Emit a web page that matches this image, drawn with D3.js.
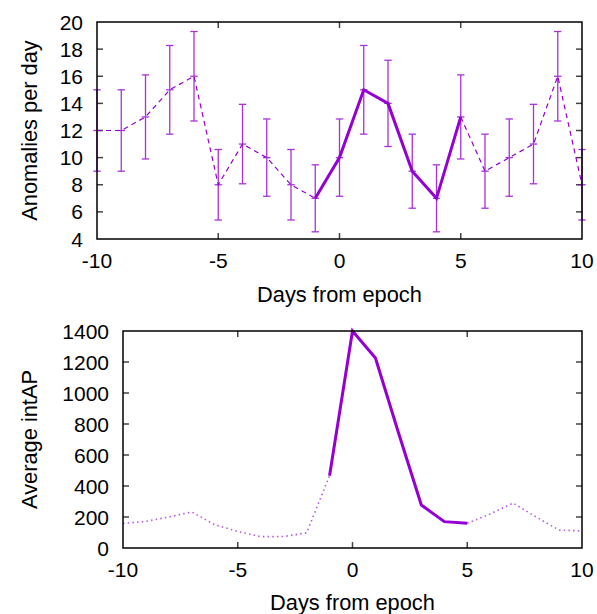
<!DOCTYPE html>
<html>
<head>
<meta charset="utf-8">
<script src="https://cdn.jsdelivr.net/npm/d3@7/dist/d3.min.js"></script>
<style>
  html, body { margin: 0; padding: 0; background: #fff; }
  svg { display: block; }
  text { font-family: "Liberation Sans", Arial, Helvetica, sans-serif; fill: #000; }
</style>
</head>
<body>
<svg id="chart" width="597" height="614"></svg>
<script>
// ---------- data ----------
const days = [-10,-9,-8,-7,-6,-5,-4,-3,-2,-1,0,1,2,3,4,5,6,7,8,9,10];
const anomalies = [12,12,13,15,16,8,11,10,8,7,10,15,14,9,7,13,9,10,11,16,8];
const anomalyErr = [3.0,3.0,3.1,3.27,3.3,2.6,2.93,2.85,2.6,2.47,2.85,3.27,3.18,2.73,2.47,3.1,2.73,2.85,2.93,3.3,2.6];
const intAP = [159,172,200,232,150,107,73,74,98,466,1400,1226,745,277,170,159,220,290,200,116,110];
const highlightStart = -1, highlightEnd = 5;
const xTicks = [-10,-5,0,5,10];
const yTicksTop = [4,6,8,10,12,14,16,18,20];
const yTicksBottom = [0,200,400,600,800,1000,1200,1400];
const xLabel = "Days from epoch";
const yLabelTop = "Anomalies per day";
const yLabelBottom = "Average intAP";

const color = "#9400D3";
const FS = 21;      // tick labels
const FT = 21.8;    // axis titles
const svg = d3.select("#chart");

function frame(g, x, y, xt, yt, fmtY) {
  const [x0, x1] = x.range();
  const [y0, y1] = y.range(); // y0 bottom, y1 top
  const tl = 6;
  xt.forEach(v => {
    if (v === x.domain()[0] || v === x.domain()[1]) return;
    g.append("line").attr("x1", x(v)).attr("x2", x(v)).attr("y1", y0).attr("y2", y0 - tl)
      .attr("stroke", "#444").attr("stroke-width", 1.5);
    g.append("line").attr("x1", x(v)).attr("x2", x(v)).attr("y1", y1).attr("y2", y1 + tl)
      .attr("stroke", "#444").attr("stroke-width", 1.5);
  });
  yt.forEach(v => {
    if (v === y.domain()[0] || v === y.domain()[1]) return;
    g.append("line").attr("x1", x0).attr("x2", x0 + tl).attr("y1", y(v)).attr("y2", y(v))
      .attr("stroke", "#444").attr("stroke-width", 1.5);
    g.append("line").attr("x1", x1).attr("x2", x1 - tl).attr("y1", y(v)).attr("y2", y(v))
      .attr("stroke", "#444").attr("stroke-width", 1.5);
  });
  xt.forEach(v => {
    g.append("text").attr("x", x(v)).attr("y", y0 + 29).attr("text-anchor", "middle")
      .attr("font-size", FS).text(v);
  });
  yt.forEach(v => {
    g.append("text").attr("x", x0 - 14).attr("y", y(v) + 7.5).attr("text-anchor", "end")
      .attr("font-size", FS).text(fmtY(v));
  });
}

function box(g, x, y) {
  const [x0, x1] = x.range();
  const [y0, y1] = y.range();
  g.append("rect").attr("x", x0).attr("y", y1).attr("width", x1 - x0).attr("height", y0 - y1)
    .attr("fill", "none").attr("stroke", "#000").attr("stroke-width", 1.5);
}

// ---------- top panel ----------
{
  const x = d3.scaleLinear().domain([-10, 10]).range([97, 582]);
  const y = d3.scaleLinear().domain([4, 20]).range([239, 22]);
  const g = svg.append("g");
  frame(g, x, y, xTicks, yTicksTop, d => d);

  const pts = days.map((d, i) => ({d, v: anomalies[i], e: anomalyErr[i]}));
  const line = d3.line().x(p => x(p.d)).y(p => y(p.v));
  const before = pts.filter(p => p.d <= highlightStart);
  const mid = pts.filter(p => p.d >= highlightStart && p.d <= highlightEnd);
  const after = pts.filter(p => p.d >= highlightEnd);
  [before, after].forEach(seg => {
    g.append("path").attr("d", line(seg)).attr("fill", "none").attr("stroke", color)
      .attr("stroke-width", 1.2).attr("stroke-dasharray", "5,4");
  });
  g.append("path").attr("d", line(mid)).attr("fill", "none").attr("stroke", color)
    .attr("stroke-width", 3).attr("stroke-linejoin", "miter");

  const eb = g.append("g").attr("stroke", color).attr("stroke-width", 1.3).attr("opacity", 0.8);
  pts.forEach(p => {
    const cx = x(p.d), yt = y(p.v + p.e), yb = y(p.v - p.e);
    eb.append("line").attr("x1", cx).attr("x2", cx).attr("y1", yt).attr("y2", yb);
    eb.append("line").attr("x1", cx - 3.7).attr("x2", cx + 3.7).attr("y1", yt).attr("y2", yt);
    eb.append("line").attr("x1", cx - 3.7).attr("x2", cx + 3.7).attr("y1", yb).attr("y2", yb);
    eb.append("line").attr("x1", cx - 3.7).attr("x2", cx + 3.7).attr("y1", y(p.v)).attr("y2", y(p.v));
  });
  box(g, x, y);

  g.append("text").attr("x", (97 + 582) / 2).attr("y", 302).attr("text-anchor", "middle")
    .attr("font-size", FT).text(xLabel);
  g.append("text").attr("transform", `translate(37,${(22 + 239) / 2}) rotate(-90)`)
    .attr("text-anchor", "middle").attr("font-size", FT).text(yLabelTop);
}

// ---------- bottom panel ----------
{
  const x = d3.scaleLinear().domain([-10, 10]).range([123, 582]);
  const y = d3.scaleLinear().domain([0, 1400]).range([548, 331]);
  const g = svg.append("g");
  frame(g, x, y, xTicks, yTicksBottom, d => d);

  const pts = days.map((d, i) => ({d, v: intAP[i]}));
  const line = d3.line().x(p => x(p.d)).y(p => y(p.v));
  const before = pts.filter(p => p.d <= highlightStart);
  const mid = pts.filter(p => p.d >= highlightStart && p.d <= highlightEnd);
  const after = pts.filter(p => p.d >= highlightEnd);
  [before, after].forEach(seg => {
    g.append("path").attr("d", line(seg)).attr("fill", "none").attr("stroke", color)
      .attr("stroke-width", 1.6).attr("stroke-dasharray", "1.5,3.2").attr("opacity", 0.65);
  });
  g.append("path").attr("d", line(mid)).attr("fill", "none").attr("stroke", color)
    .attr("stroke-width", 3);
  box(g, x, y);

  g.append("text").attr("x", (123 + 582) / 2).attr("y", 610).attr("text-anchor", "middle")
    .attr("font-size", FT).text(xLabel);
  g.append("text").attr("transform", `translate(37,${(331 + 548) / 2}) rotate(-90)`)
    .attr("text-anchor", "middle").attr("font-size", FT).text(yLabelBottom);
}
</script>
</body>
</html>
